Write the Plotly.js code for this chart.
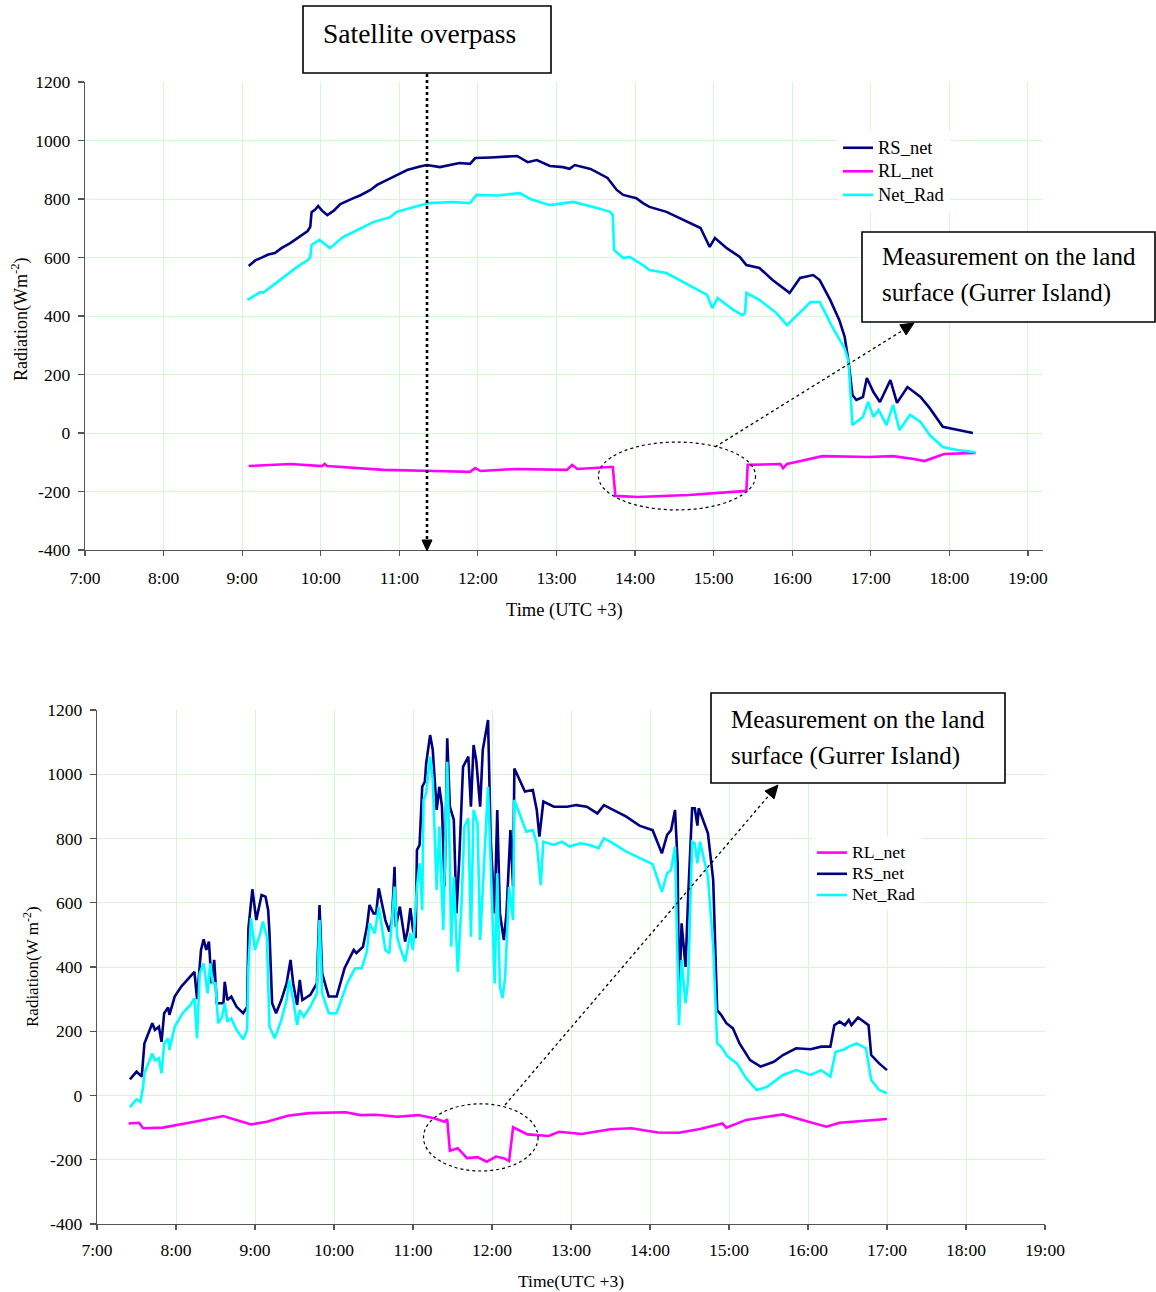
<!DOCTYPE html>
<html><head><meta charset="utf-8">
<script src="https://cdn.plot.ly/plotly-3.0.1.min.js"></script>
<style>html,body{margin:0;padding:0;background:#fff}#chart{width:1156px;height:1292px}</style>
</head><body><div id="chart"></div>
<script>
// ---------- Top chart data ----------
const topRsT = ["9:05","9:10","9:14","9:20","9:25","9:30","9:37","9:45","9:50","9:52",
  "9:53","9:56","9:58","10:01","10:05","10:10","10:15","10:25","10:30","10:38",
  "10:43","10:55","11:06","11:15","11:21","11:31","11:46","11:54","11:58","12:10",
  "12:20","12:30","12:38","12:45","12:55","13:05","13:10","13:14","13:26","13:39",
  "13:46","13:51","13:58","14:01","14:06","14:11","14:24","14:37","14:50","14:57",
  "15:01","15:10","15:20","15:25","15:35","15:45","15:58","16:06","16:16","16:21",
  "16:29","16:36","16:40","16:43","16:46","16:49","16:54","16:57","17:02","17:07",
  "17:15","17:20","17:28","17:38","17:45","17:55","18:06","18:18"];
const topRsV = [571,590,598,610,615,632,650,673,690,705,
  755,765,776,760,745,760,783,803,812,831,
  848,875,899,910,916,909,923,920,940,942,
  944,947,926,933,913,909,903,916,903,872,
  831,814,806,803,786,773,756,728,701,636,
  667,632,602,574,564,523,479,530,540,523,
  455,386,330,245,130,113,123,188,140,106,
  181,103,157,123,85,21,10,0];

const topRlT = ["9:05","9:37","10:01","10:03","10:05","10:48","11:27","11:54","11:58","12:02",
  "12:29","13:08","13:12","13:16","13:41","13:43","13:45","14:02","14:41","15:22",
  "15:25","15:26","15:51","15:53","15:56","16:03","16:23","16:58","17:17","17:33",
  "17:41","17:56","18:20"];
const topRlV = [-113,-106,-113,-106,-113,-126,-130,-133,-120,-130,
  -123,-126,-109,-123,-116,-116,-215,-219,-212,-198,
  -198,-109,-106,-120,-106,-99,-79,-82,-79,-89,
  -96,-72,-68];

const topNetT = ["9:04","9:14","9:16","9:29","9:42","9:50","9:52","9:53","9:59","10:07",
  "10:17","10:28","10:40","10:53","10:58","11:14","11:23","11:40","11:54","11:59",
  "12:15","12:32","12:40","12:55","13:13","13:31","13:41","13:43","13:44","13:51",
  "13:56","14:06","14:11","14:24","14:37","14:55","14:59","15:03","15:15","15:22",
  "15:24","15:25","15:35","15:48","15:56","16:04","16:14","16:21","16:31","16:40",
  "16:43","16:46","16:54","16:58","17:02","17:06","17:12","17:17","17:22","17:30",
  "17:38","17:45","17:55","18:06","18:20"];
const topNetV = [455,482,479,523,568,591,600,643,660,632,
  670,694,721,738,756,776,786,790,786,814,
  812,820,800,779,790,769,756,745,626,598,
  602,574,557,547,516,472,427,462,421,403,
  410,479,455,410,369,403,448,448,359,290,
  245,27,55,106,55,79,27,96,10,62,
  38,-7,-48,-58,-66];

// ---------- Bottom chart data ----------
const botRlT = ["7:24","7:32","7:35","7:50","8:14","8:36","8:57","9:09","9:25","9:41",
  "10:09","10:20","10:32","10:48","11:04","11:16","11:24","11:26","11:28","11:34",
  "11:41","11:49","11:56","12:03","12:09","12:13","12:16","12:27","12:43","12:51",
  "13:08","13:30","13:46","14:06","14:22","14:38","14:55","14:58","15:13","15:29",
  "15:41","15:57","16:14","16:24","16:40","17:00"];
const botRlV = [-87,-85,-102,-100,-82,-64,-90,-82,-63,-55,
  -52,-61,-60,-66,-61,-71,-82,-74,-172,-164,
  -195,-192,-206,-190,-195,-204,-99,-121,-126,-113,
  -120,-105,-102,-115,-116,-104,-87,-100,-76,-66,
  -59,-78,-97,-85,-80,-73];

const botRsT = ["7:25","7:30","7:34","7:36","7:42","7:44","7:47","7:49","7:51","7:54",
  "7:55","7:59","8:04","8:11","8:14","8:16","8:19","8:21","8:23","8:25",
  "8:27","8:29","8:31","8:36","8:37","8:39","8:42","8:46","8:51","8:54",
  "8:55","8:58","9:01","9:05","9:08","9:10","9:11","9:13","9:16","9:20",
  "9:24","9:27","9:29","9:32","9:34","9:36","9:42","9:47","9:49","9:51",
  "9:56","10:02","10:08","10:15","10:17","10:22","10:25","10:27","10:30","10:32",
  "10:34","10:39","10:42","10:44","10:46","10:47","10:50","10:54","10:56","10:58",
  "11:00","11:02","11:03","11:05","11:07","11:09","11:10","11:13","11:15","11:18",
  "11:20","11:22","11:24","11:26","11:28","11:31","11:33","11:35","11:38","11:42",
  "11:44","11:46","11:48","11:51","11:53","11:57","11:59","12:02","12:04","12:06",
  "12:09","12:11","12:14","12:16","12:17","12:21","12:25","12:31","12:34","12:36",
  "12:39","12:47","12:57","13:04","13:12","13:20","13:25","13:32","13:42","13:52",
  "14:02","14:09","14:13","14:16","14:19","14:21","14:22","14:24","14:27","14:29",
  "14:32","14:34","14:36","14:37","14:44","14:48","14:51","14:54","14:58","15:03",
  "15:08","15:16","15:24","15:34","15:41","15:51","16:02","16:10","16:17","16:20",
  "16:24","16:28","16:31","16:33","16:38","16:46","16:48","16:54","17:00"];
const botRsV = [50,74,59,162,225,204,214,167,256,274,
  251,308,339,370,385,300,453,486,453,479,
  349,422,287,287,354,297,308,276,256,276,
  520,642,546,624,619,577,505,287,256,297,
  349,422,349,282,360,297,313,349,593,380,
  308,308,396,453,443,463,525,593,567,567,
  645,546,510,546,712,525,588,479,515,583,
  515,490,764,780,961,977,1034,1122,1076,889,
  961,899,650,1112,899,858,567,723,1023,1055,
  899,1091,1044,899,1076,1169,795,567,889,567,
  484,567,826,650,1018,982,946,951,889,806,
  915,899,899,904,899,878,904,889,868,840,
  826,754,811,826,889,723,280,536,400,620,
  894,894,840,894,816,671,266,251,225,209,
  162,110,90,105,126,147,144,152,152,219,
  230,219,235,219,243,219,126,100,79];

const botNetT = ["7:25","7:30","7:33","7:35","7:36","7:42","7:44","7:47","7:49","7:51",
  "7:54","7:55","7:59","8:05","8:11","8:14","8:16","8:18","8:21","8:24",
  "8:26","8:28","8:30","8:32","8:35","8:37","8:39","8:42","8:46","8:51",
  "8:54","8:55","8:57","9:00","9:04","9:06","9:09","9:11","9:15","9:20",
  "9:24","9:26","9:29","9:32","9:34","9:37","9:42","9:47","9:49","9:51",
  "9:56","10:02","10:10","10:16","10:21","10:25","10:27","10:31","10:34","10:39",
  "10:42","10:46","10:48","10:50","10:54","10:58","11:00","11:03","11:05","11:07",
  "11:08","11:10","11:13","11:15","11:18","11:20","11:23","11:26","11:28","11:29",
  "11:31","11:34","11:37","11:39","11:42","11:44","11:46","11:49","11:51","11:55",
  "11:57","12:00","12:02","12:04","12:06","12:08","12:10","12:13","12:16","12:17",
  "12:21","12:26","12:31","12:34","12:37","12:39","12:47","12:53","12:59","13:07",
  "13:14","13:21","13:25","13:32","13:42","13:52","14:02","14:09","14:13","14:16",
  "14:19","14:22","14:24","14:27","14:29","14:32","14:34","14:36","14:38","14:44",
  "14:48","14:51","14:54","14:59","15:06","15:13","15:21","15:29","15:34","15:41",
  "15:51","16:02","16:10","16:17","16:21","16:27","16:31","16:37","16:44","16:48",
  "16:54","17:00"];
const botNetV = [-36,-12,-20,27,69,131,110,116,69,162,
  178,142,214,256,282,303,178,380,411,318,
  411,349,349,225,245,287,230,240,204,175,
  204,401,552,453,505,541,494,214,178,235,
  297,360,297,219,266,245,276,318,546,318,
  256,256,349,396,396,448,536,505,588,453,
  443,650,494,463,416,505,453,650,723,577,
  920,941,1055,982,640,837,515,1039,733,463,
  681,385,609,837,863,494,889,847,484,816,
  961,609,349,692,339,303,370,650,546,920,
  873,821,826,785,655,790,780,790,775,785,
  780,770,801,785,759,740,720,634,692,702,
  775,219,422,287,360,790,785,723,790,681,
  463,162,152,121,100,54,17,27,43,64,
  79,64,79,59,136,142,152,162,147,48,
  17,7];

const hourTicks = ["7:00","8:00","9:00","10:00","11:00","12:00","13:00","14:00","15:00","16:00","17:00","18:00","19:00"];
const yTicks = [-400,-200,0,200,400,600,800,1000,1200];

// ---------- helpers ----------
const DAY = "2000-01-01 ";
const d = t => t.map(s => DAY + s);
const W = 1156, H = 1292;
const px = x => x / W, py = y => 1 - y / H;
const FONT = "Liberation Serif, Times New Roman, serif";
const NAVY = "#000080", MAG = "#ff00ff", CYAN = "#00ffff";
const GRID = "#d4f7d4";

function line(name, t, v, color, xa, ya, lg, size) {
  return {type: "scatter", mode: "lines",
    name: '<span style="font-size:' + size + 'px">' + name + '</span>',
    x: d(t), y: v, xaxis: xa, yaxis: ya, legend: lg,
    line: {color: color, width: 2.6}, hoverinfo: "x+y"};
}

const traces = [
  line("RS_net", topRsT, topRsV, NAVY, "x", "y", "legend", 18.5),
  line("RL_net", topRlT, topRlV, MAG, "x", "y", "legend", 18.5),
  line("Net_Rad", topNetT, topNetV, CYAN, "x", "y", "legend", 18.5),
  line("RL_net", botRlT, botRlV, MAG, "x2", "y2", "legend2", 17.7),
  line("RS_net", botRsT, botRsV, NAVY, "x2", "y2", "legend2", 17.7),
  line("Net_Rad", botNetT, botNetV, CYAN, "x2", "y2", "legend2", 17.7)
];

function xaxis(domain, rangeEnd, anchor, standoff) {
  return {type: "date", domain: domain, anchor: anchor,
    range: [DAY + "7:00", DAY + rangeEnd],
    tickvals: d(hourTicks), ticktext: hourTicks,
    showgrid: true, gridcolor: GRID, gridwidth: 1,
    showline: true, linecolor: "#555", linewidth: 1.3,
    ticks: "outside", ticklen: 5, tickcolor: "#555", tickwidth: 1.2,
    ticklabelstandoff: standoff,
    tickfont: {family: FONT, size: 17.5, color: "#000"}, zeroline: false};
}
function yaxis(domain, anchor) {
  return {domain: domain, anchor: anchor, range: [-400, 1200],
    tickvals: yTicks, ticktext: yTicks.map(String),
    showgrid: true, gridcolor: GRID, gridwidth: 1,
    showline: true, linecolor: "#555", linewidth: 1.3,
    ticks: "outside", ticklen: 6, tickcolor: "#555", tickwidth: 1.2,
    ticklabelstandoff: 4,
    tickfont: {family: FONT, size: 17.5, color: "#000"}, zeroline: false};
}

const txt = (text, x, y, size, opts) => Object.assign({
  text: text, xref: "paper", yref: "paper", x: px(x), y: py(y),
  xanchor: "left", yanchor: "middle", showarrow: false,
  font: {family: FONT, size: size, color: "#000"}}, opts || {});

const annotations = [
  txt("Satellite overpass", 321, 34, 27.5),
  txt("Measurement on the land", 880, 257, 25),
  txt("surface (Gurrer Island)", 880, 293, 25),
  txt("Measurement on the land", 729, 719, 25),
  txt("surface (Gurrer Island)", 729, 756, 25),
  txt("Radiation(Wm<sup>-2</sup>)", 20, 320, 18, {xanchor: "center", textangle: -90}),
  txt("Time (UTC +3)", 564, 610, 18.5, {xanchor: "center"}),
  txt("Radiation(W m<sup>-2</sup>)", 31, 967, 17, {xanchor: "center", textangle: -90}),
  txt("Time(UTC +3)", 571, 1281, 17.5, {xanchor: "center"})
];

const box = (x0, y0, x1, y1) => ({type: "rect", xref: "paper", yref: "paper",
  x0: px(x0), x1: px(x1), y0: py(y1), y1: py(y0),
  line: {color: "#000", width: 1.6}, fillcolor: "#fff", layer: "above"});
const dotted = (x0, y0, x1, y1, w) => ({type: "line", xref: "paper", yref: "paper",
  x0: px(x0), y0: py(y0), x1: px(x1), y1: py(y1),
  line: {color: "#000", width: w, dash: "dot"}, layer: "above"});
// filled triangular arrowhead: tip (tx,ty) in page pixels, direction from (fx,fy)
function head(fx, fy, tx, ty, len, hw) {
  const L = Math.hypot(tx - fx, ty - fy), ux = (tx - fx) / L, uy = (ty - fy) / L;
  const bx = tx - len * ux, by = ty - len * uy, nx = -uy, ny = ux;
  const p = (x, y) => px(x) + "," + py(y);
  return {type: "path", xref: "paper", yref: "paper", layer: "above",
    path: "M" + p(tx, ty) + " L" + p(bx + hw * nx, by + hw * ny) + " L" + p(bx - hw * nx, by - hw * ny) + " Z",
    fillcolor: "#000", line: {color: "#000", width: 1}};
}

const shapes = [
  box(303, 6, 551, 73),
  box(862, 232, 1155, 322),
  box(711, 693, 1005, 783),
  dotted(427, 74, 427, 540, 2.6),
  dotted(715, 447, 905, 329, 1.3),
  dotted(505, 1105, 771, 793, 1.3),
  head(427, 74, 427, 551, 11, 5),
  head(715, 447, 914, 323, 13, 6),
  head(505, 1105, 778, 785, 13, 6),
  {type: "circle", xref: "x", yref: "y", x0: DAY + "13:32", x1: DAY + "15:32",
    y0: -263, y1: -31, line: {color: "#000", width: 1.2, dash: "dot"}},
  {type: "circle", xref: "x2", yref: "y2", x0: DAY + "11:08", x1: DAY + "12:35",
    y0: -235, y1: -26, line: {color: "#000", width: 1.2, dash: "dot"}}
];

const layout = {
  width: W, height: H, margin: {l: 0, r: 0, t: 0, b: 0},
  paper_bgcolor: "#fff", plot_bgcolor: "#fff", showlegend: true,
  xaxis: xaxis([px(85), px(1043)], "19:11:30", "y", 7),
  yaxis: yaxis([py(550), py(82)], "x"),
  xaxis2: xaxis([px(97), px(1045)], "19:00", "y2", 5),
  yaxis2: yaxis([py(1224), py(710)], "x2"),
  legend: {x: px(838), y: py(131), xanchor: "left", yanchor: "top",
    bgcolor: "#fff", borderwidth: 0, font: {family: FONT, size: 15.8, color: "#000"},
    traceorder: "normal"},
  legend2: {x: px(812), y: py(837), xanchor: "left", yanchor: "top",
    bgcolor: "#fff", borderwidth: 0, font: {family: FONT, size: 14, color: "#000"},
    traceorder: "normal"},
  annotations: annotations, shapes: shapes
};

Plotly.newPlot("chart", traces, layout, {displayModeBar: false, staticPlot: true});
</script></body></html>
